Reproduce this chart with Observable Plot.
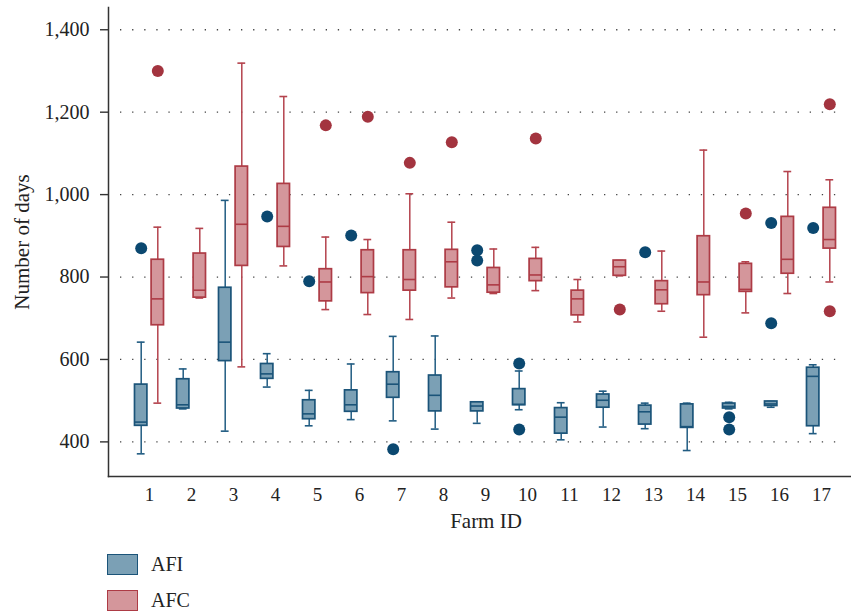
<!DOCTYPE html>
<html>
<head>
<meta charset="utf-8">
<script src="https://cdn.jsdelivr.net/npm/d3@7"></script>
<script src="https://cdn.jsdelivr.net/npm/@observablehq/plot@0.6"></script>
<style>
  body { margin: 0; background: #fff; font-family: "Liberation Serif", serif; }
  #chart svg { display: block; font-family: "Liberation Serif", serif !important; }
  #chart svg text { font-family: "Liberation Serif", serif !important; }
  .legend { padding-left: 107px; margin-top: 13px; color: #222; font-size: 20px; }
  .legend .row { display: flex; align-items: center; height: 22px; margin-bottom: 14px; }
  .legend .sw { width: 29px; height: 19px; border: 1.6px solid; margin-right: 13px; }
</style>
</head>
<body>
<div id="chart"></div>
<div class="legend" id="legend"></div>
<script>
const farms = [1,2,3,4,5,6,7,8,9,10,11,12,13,14,15,16,17];
const yTicks = [400, 600, 800, 1000, 1200, 1400];

// AFI box statistics
const afiLo  = [371,480,426,533,439,454,451,431,445,478,405,436,432,379,480,484,420];
const afiQ1  = [439,481,596,553,455,473,507,474,474,489,420,483,442,434,481,487,438];
const afiMed = [448,490,642,565,468,490,540,513,487,491,460,501,473,437,486,492,559];
const afiQ3  = [539,552,774,589,501,525,569,561,496,528,482,515,488,491,493,498,580];
const afiHi  = [642,577,986,614,525,589,656,657,496,572,495,523,494,494,496,498,587];
const afiOutFarm = [1,4,5,6,7,9,9,10,10,13,15,15,16,16,17];
const afiOutVal  = [870,947,790,901,382,865,840,590,430,860,460,430,931,688,919];

// AFC box statistics
const afcLo  = [494,749,582,827,721,709,697,749,760,767,691,803,717,654,713,760,788];
const afcQ1  = [683,750,827,873,741,761,767,775,762,790,707,803,734,756,764,808,869];
const afcMed = [747,768,928,923,788,801,794,837,781,805,747,825,769,788,770,843,891];
const afcQ3  = [842,857,1068,1026,819,865,865,866,822,844,767,840,790,899,832,946,968];
const afcHi  = [921,918,1319,1238,897,891,1002,933,868,872,794,840,863,1108,837,1056,1036];
const afcOutFarm = [1,5,6,7,8,10,12,15,17,17];
const afcOutVal  = [1300,1168,1189,1077,1127,1136,721,954,1219,717];

const series = [
  {name: "AFI", lo: afiLo, q1: afiQ1, med: afiMed, q3: afiQ3, hi: afiHi, outF: afiOutFarm, outV: afiOutVal,
   fill: "#7ba0b5", stroke: "#1b5479", whisker: "#215c82", dot: "#0b4870", dx: -8.3},
  {name: "AFC", lo: afcLo, q1: afcQ1, med: afcMed, q3: afcQ3, hi: afcHi, outF: afcOutFarm, outV: afcOutVal,
   fill: "#d4969b", stroke: "#ad3b45", whisker: "#b4434d", dot: "#a3343f", dx: 8.3}
];

const FONT = "Liberation Serif";
const boxInset = 14.8, capInset = 17.1;
const marks = [];
marks.push(Plot.ruleY(yTicks, {y: d => d, stroke: "#444", strokeWidth: 1.3, strokeDasharray: "1.3,10.8", insetLeft: 12, insetRight: 8}));
for (const s of series) {
  const rows = farms.map((f, i) => ({farm: f, lo: s.lo[i], q1: s.q1[i], med: s.med[i], q3: s.q3[i], hi: s.hi[i]}));
  const outs = s.outF.map((f, i) => ({farm: f, v: s.outV[i]}));
  marks.push(
    Plot.ruleX(rows, {x: "farm", y1: "lo", y2: "q1", stroke: s.whisker, strokeWidth: 1.5, dx: s.dx}),
    Plot.ruleX(rows, {x: "farm", y1: "q3", y2: "hi", stroke: s.whisker, strokeWidth: 1.5, dx: s.dx}),
    Plot.tickY(rows, {x: "farm", y: "lo", stroke: s.whisker, strokeWidth: 1.6, insetLeft: capInset, insetRight: capInset, dx: s.dx}),
    Plot.tickY(rows, {x: "farm", y: "hi", stroke: s.whisker, strokeWidth: 1.6, insetLeft: capInset, insetRight: capInset, dx: s.dx}),
    Plot.barY(rows, {x: "farm", y1: "q1", y2: "q3", fill: s.fill, stroke: s.stroke, strokeWidth: 1.7, insetLeft: boxInset, insetRight: boxInset, dx: s.dx}),
    Plot.tickY(rows, {x: "farm", y: "med", stroke: s.stroke, strokeWidth: 1.6, insetLeft: boxInset, insetRight: boxInset, dx: s.dx}),
    Plot.dot(outs, {x: "farm", y: "v", r: 6, fill: s.dot, stroke: "none", dx: s.dx})
  );
}
marks.push(
  Plot.frame({anchor: "left", stroke: "#333", strokeWidth: 1.5}),
  Plot.frame({anchor: "bottom", stroke: "#333", strokeWidth: 1.5}),
  Plot.axisY({ticks: yTicks, tickFormat: d3.format(","), tickSize: 8, tickPadding: 11, label: null, stroke: "#333", strokeWidth: 1.4, fill: "#222", fontFamily: FONT, fontSize: 20}),
  Plot.axisX({tickSize: 0, tickPadding: 11, label: null, fill: "#222", fontFamily: FONT, fontSize: 19}),
  Plot.text(["Number of days"], {frameAnchor: "left", dx: -86, rotate: -90, fontSize: 21, fontFamily: FONT, fill: "#222", textAnchor: "middle", lineAnchor: "middle"}),
  Plot.text(["Farm ID"], {frameAnchor: "bottom", dx: 6, dy: 45, fontSize: 21, fontFamily: FONT, fill: "#222", textAnchor: "middle", lineAnchor: "middle"})
);

const chart = Plot.plot({
  width: 851,
  height: 540,
  marginLeft: 108,
  marginRight: 0,
  marginTop: 7,
  marginBottom: 64,
  style: {fontFamily: FONT, fontSize: "19px", color: "#222", background: "#fff"},
  x: {type: "band", domain: farms, range: [125.9, 844.1], padding: 0},
  y: {domain: [316, 1454]},
  marks
});
document.getElementById("chart").appendChild(chart);

const legend = document.getElementById("legend");
for (const s of series) {
  const row = document.createElement("div");
  row.className = "row";
  const sw = document.createElement("div");
  sw.className = "sw";
  sw.style.background = s.fill;
  sw.style.borderColor = s.stroke;
  const lab = document.createElement("span");
  lab.textContent = s.name;
  row.appendChild(sw);
  row.appendChild(lab);
  legend.appendChild(row);
}
</script>
</body>
</html>
